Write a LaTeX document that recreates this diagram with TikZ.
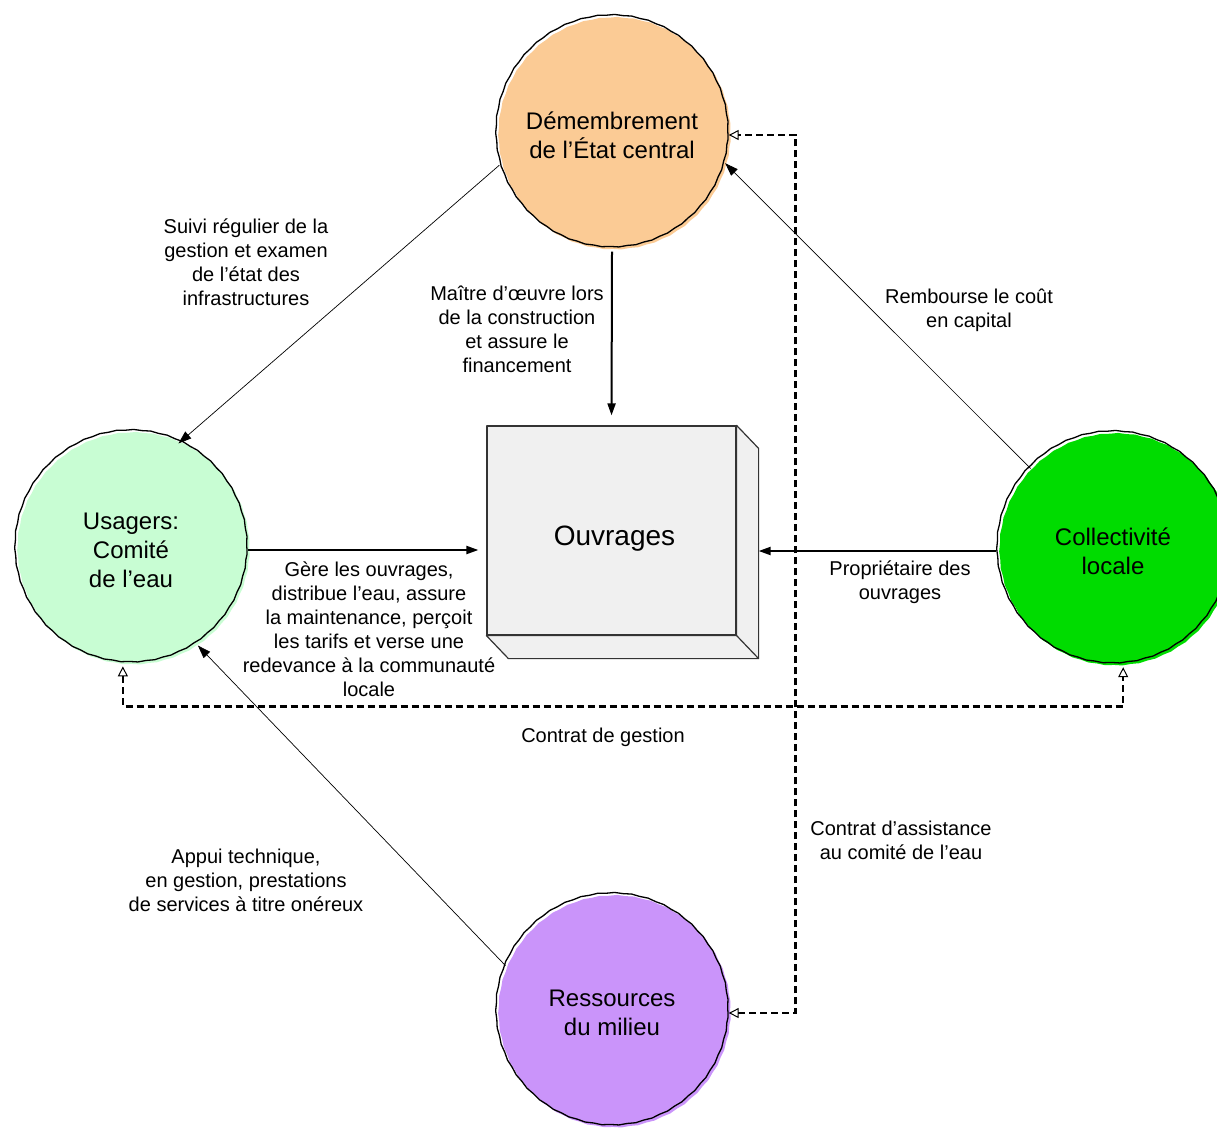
\documentclass[tikz,border=0pt]{standalone}
\usepackage{fontspec}
\setmainfont{Liberation Sans}
\usetikzlibrary{arrows.meta,shadows,decorations.pathmorphing,calc}

\definecolor{peach}{HTML}{FBCB95}
\definecolor{mint}{HTML}{C8FDD3}
\definecolor{vivid}{HTML}{00DC00}
\definecolor{lilac}{HTML}{CA94FA}
\definecolor{boxgray}{HTML}{F0F0F0}
\definecolor{boxedge}{HTML}{333333}

\begin{document}
\begin{tikzpicture}[x=1pt,y=-1pt,
  actor/.style={circle, minimum size=232pt, inner sep=0pt, draw=black, line width=1.3pt,
    align=center, font=\fontsize{24}{29}\selectfont,
    general shadow={fill=#1, shadow xshift=2.5pt, shadow yshift=-2.5pt},
    decoration={snake, segment length=17pt, amplitude=0.35pt}, decorate},
  lbl/.style={align=center, inner sep=0pt, font=\fontsize{20}{24}\selectfont},
  flow/.style={line width=2pt, -{Triangle[length=12pt,width=8pt]}},
  link/.style={line width=0.7pt, -{Triangle[length=13pt,width=9pt]}},
  contract/.style={line width=2.6pt, dash pattern=on 7pt off 4pt,
    {Triangle[open,length=10pt,width=10pt,line width=1pt]}-{Triangle[open,length=10pt,width=10pt,line width=1pt]}},
  facestyle/.style={fill=boxgray, draw=boxedge, line width=1.2pt, line join=round},
]
\useasboundingbox (0,0) rectangle (1217,1127);

% the four actors
\node[actor=peach] (dem)  at (612,135)  {Démembrement\\de l’État central};
\node[actor=mint]  (usa)  at (131,550)  {Usagers:\\Comité\\de l’eau};
\node[actor=vivid] (coll) at (1113,551) {Collectivité\\locale};
\node[actor=lilac] (res)  at (612,1013) {Ressources\\du milieu};

% the works, drawn as a block
\node[facestyle, minimum width=249pt, minimum height=209pt, inner sep=0pt,
      text height=29pt, text depth=0pt,
      font=\fontsize{28}{32}\selectfont] (ouv) at (611.5,530.5) {\hspace*{6pt}Ouvrages};
\filldraw[facestyle] (ouv.north east) -- ++(22,23) -- ($(ouv.south east)+(22,23)$)
  -- ($(ouv.south west)+(22,23)$) -- (ouv.south west) -- (ouv.south east) -- cycle;
\draw[facestyle, fill=none] (ouv.south east) -- ++(22,23);
\coordinate (ouvside) at ($(ouv.east)+(22,20)$);

% main flows
\draw[flow, shorten >=10pt] (dem.south) -- (ouv.north);
\draw[flow, shorten >=8pt] (usa.east) -- (usa.east -| ouv.west);
\draw[flow] (coll.west) -- (coll.west -| ouvside);

% thin relations
\draw[link] (dem.195) -- (usa.66);
\draw[link] (coll.135) -- (dem.346);
\draw[link] (res.156) -- (usa.305);

% contracts
\draw[contract] (res.east) -- ++(67,0) |- (dem.east);
\draw[contract] (usa.266) -- ++(0,40) -| (coll.275);

% labels
\node[lbl] (l1) at (246,262) {Suivi régulier de la\\gestion et examen\\de l’état des\\infrastructures};
\node[lbl] (l2) at (517,329) {Maître d’œuvre lors\\de la construction\\et assure le\\financement};
\node[lbl] (l3) at (969,310) {Rembourse le coût\\en capital};
\node[lbl] (l4) at (369,629) {Gère les ouvrages,\\distribue l’eau, assure\\la maintenance, perçoit\\les tarifs et verse une\\redevance à la communauté\\locale};
\node[lbl] (l5) at (900,582) {Propriétaire des\\ouvrages};
\node[lbl] (l6) at (603,737) {Contrat de gestion};
\node[lbl] (l7) at (901,840) {Contrat d’assistance\\au comité de l’eau};
\node[lbl] (l8) at (246,880) {Appui technique,\\en gestion, prestations\\de services à titre onéreux};
\end{tikzpicture}
\end{document}
